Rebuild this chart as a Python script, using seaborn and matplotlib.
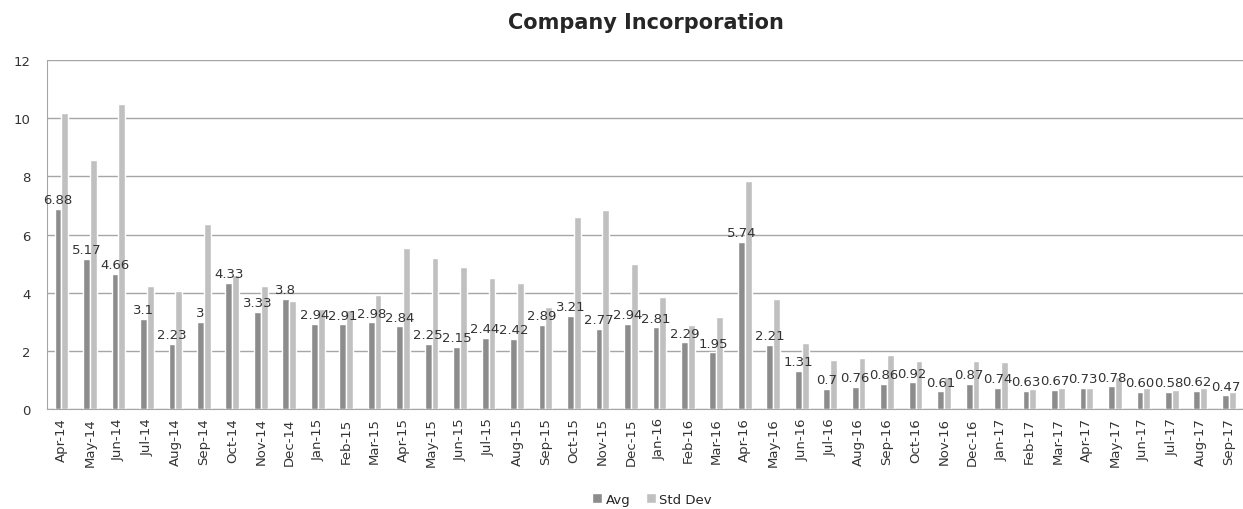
import numpy as np
import pandas as pd

import matplotlib
matplotlib.use("Agg")
import matplotlib.pyplot as plt
import seaborn as sns


# -----------------------------
# DATA
# -----------------------------

months = [
    "Apr-14", "May-14", "Jun-14", "Jul-14", "Aug-14", "Sep-14", "Oct-14", "Nov-14", "Dec-14",
    "Jan-15", "Feb-15", "Mar-15", "Apr-15", "May-15", "Jun-15", "Jul-15", "Aug-15", "Sep-15",
    "Oct-15", "Nov-15", "Dec-15", "Jan-16", "Feb-16", "Mar-16", "Apr-16", "May-16", "Jun-16",
    "Jul-16", "Aug-16", "Sep-16", "Oct-16", "Nov-16", "Dec-16", "Jan-17", "Feb-17", "Mar-17",
    "Apr-17", "May-17", "Jun-17", "Jul-17", "Aug-17", "Sep-17",
]

avg = [
    6.88, 5.17, 4.66, 3.1, 2.23, 3, 4.33, 3.33, 3.8,
    2.94, 2.91, 2.98, 2.84, 2.25, 2.15, 2.44, 2.42, 2.89,
    3.21, 2.77, 2.94, 2.81, 2.29, 1.95, 5.74, 2.21, 1.31,
    0.7, 0.76, 0.86, 0.92, 0.61, 0.87, 0.74, 0.63, 0.67,
    0.73, 0.78, 0.60, 0.58, 0.62, 0.47,
]

avg_labels = [
    "6.88", "5.17", "4.66", "3.1", "2.23", "3", "4.33", "3.33", "3.8",
    "2.94", "2.91", "2.98", "2.84", "2.25", "2.15", "2.44", "2.42", "2.89",
    "3.21", "2.77", "2.94", "2.81", "2.29", "1.95", "5.74", "2.21", "1.31",
    "0.7", "0.76", "0.86", "0.92", "0.61", "0.87", "0.74", "0.63", "0.67",
    "0.73", "0.78", "0.60", "0.58", "0.62", "0.47",
]

std_dev = [
    10.2, 8.55, 10.5, 4.22, 4.05, 6.38, 4.62, 4.22, 3.72,
    3.44, 3.39, 3.93, 5.55, 5.21, 4.9, 4.51, 4.34, 3.5,
    6.6, 6.83, 4.99, 3.85, 2.9, 3.16, 7.83, 3.78, 2.27,
    1.68, 1.75, 1.86, 1.65, 1.09, 1.66, 1.61, 0.69, 0.72,
    0.72, 1.09, 0.72, 0.64, 0.72, 0.60,
]

series = ["Avg", "Std Dev"]
colors = ["#8c8c8c", "#c0c0c0"]

df = pd.DataFrame({
    "Month": months * 2,
    "Value": avg + std_dev,
    "Series": [series[0]] * len(months) + [series[1]] * len(months),
})


# -----------------------------
# PLOT
# -----------------------------

sns.set_style("white")
plt.rcParams["font.family"] = ["DejaVu Sans"]

fig = plt.figure(figsize=(12.43, 5.10), dpi=100)
ax = fig.add_axes([0.038, 0.196, 0.962, 0.684])

sns.barplot(
    data=df, x="Month", y="Value", hue="Series",
    palette=colors, width=0.48, saturation=1,
    order=months, hue_order=series, ax=ax,
)

# data labels on the Avg bars
ax.bar_label(ax.containers[0], labels=avg_labels, padding=2,
             fontsize=9.5, color="#333333")

ax.set_ylim(0, 12)
ax.set_xlim(-0.5, len(months) - 0.5)
ax.set_yticks(np.arange(0, 13, 2))
ax.yaxis.grid(True, color="#a6a6a6", linewidth=1)
ax.set_axisbelow(True)

ax.set_xlabel("")
ax.set_ylabel("")

# Excel style tick marks between categories
ax.set_xticks(np.arange(len(months)))
ax.set_xticklabels(months, rotation=90, fontsize=9.5, color="#333333")
ax.set_xticks(np.arange(len(months) + 1) - 0.5, minor=True)
ax.tick_params(axis="x", which="major", length=0, pad=6)
ax.tick_params(axis="x", which="minor", length=5, color="#a6a6a6", width=1)
ax.tick_params(axis="y", length=0, labelsize=9.5, colors="#333333", pad=12)

for side in ["top", "right"]:
    ax.spines[side].set_visible(False)
ax.spines["left"].set_color("#a6a6a6")
ax.spines["bottom"].set_color("#a6a6a6")

ax.legend(
    loc="center", bbox_to_anchor=(0.506, -0.258), ncol=2,
    frameon=False, fontsize=9.5, handlelength=0.7, handleheight=0.7,
    handletextpad=0.3, columnspacing=1.2,
)

fig.suptitle("Company Incorporation", fontsize=15, fontweight="bold",
             y=0.975, x=0.52)

plt.savefig("out.png", dpi=100)
